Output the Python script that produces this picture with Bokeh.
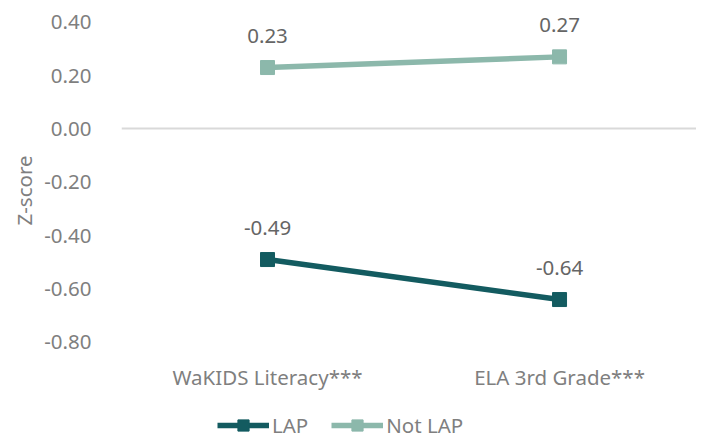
from bokeh.plotting import figure
from bokeh.models import (Range1d, Legend, LegendItem, FixedTicker, ColumnDataSource,
                          NumeralTickFormatter, Title)
from bokeh.embed import file_html
from bokeh.resources import INLINE

categories = ["WaKIDS Literacy***", "ELA 3rd Grade***"]
lap = [-0.49, -0.64]
not_lap = [0.23, 0.27]
y_ticks = [0.4, 0.2, 0.0, -0.2, -0.4, -0.6, -0.8]
y_axis_title = "Z-score"
series_names = ["LAP", "Not LAP"]
series_colors = ["#135B60", "#8CB8AB"]

FONT = "Noto Sans"
FS = "20.5px"
GRAY = "#7F7F7F"
LBL = "#656565"

xs = list(range(len(categories)))

# frame spans the whole canvas height; value axis runs 0.4 .. -0.8 inside it
p = figure(width=696, height=440, output_backend="svg", toolbar_location=None,
           x_range=Range1d(-0.5, 1.469), y_range=Range1d(-1.1686, 0.4814),
           min_border_left=121, min_border_right=0, min_border_top=0, min_border_bottom=0)
p.outline_line_color = None
p.background_fill_color = "white"
p.border_fill_color = "white"

renderers = []
for vals, name, col in zip([lap, not_lap], series_names, series_colors):
    src = ColumnDataSource(dict(x=xs, y=vals, t=["%.2f" % v for v in vals]))
    l = p.line("x", "y", source=src, line_color=col, line_width=5.5)
    m = p.scatter("x", "y", source=src, marker="square", size=14, fill_color=col, line_color=col)
    p.text("x", "y", text="t", source=src, text_font={"value": FONT}, text_font_size=FS,
           text_color=LBL, text_align="center", text_baseline="middle", y_offset=-32)
    renderers.append((name, [l, m]))

p.xaxis.ticker = FixedTicker(ticks=xs)
p.xaxis.major_label_overrides = {i: c for i, c in enumerate(categories)}
p.xaxis.fixed_location = y_ticks[-1]
p.xaxis.axis_line_color = None
p.xaxis.major_tick_line_color = None
p.xaxis.minor_tick_line_color = None
p.xaxis.major_label_text_font = FONT
p.xaxis.major_label_text_font_size = FS
p.xaxis.major_label_text_color = GRAY
p.xaxis.major_label_standoff = 15

p.yaxis.ticker = FixedTicker(ticks=y_ticks)
p.yaxis.formatter = NumeralTickFormatter(format="0.00")
p.yaxis.axis_line_color = None
p.yaxis.major_tick_line_color = None
p.yaxis.minor_tick_line_color = None
p.yaxis.major_label_text_font = FONT
p.yaxis.major_label_text_font_size = FS
p.yaxis.major_label_text_color = GRAY
p.yaxis.major_label_standoff = 24

p.add_layout(Title(text=y_axis_title, align="left", offset=215, text_font=FONT,
                   text_font_size=FS, text_font_style="normal", text_color=GRAY,
                   standoff=8), "left")

p.xgrid.grid_line_color = None
p.ygrid.ticker = FixedTicker(ticks=[0.0])
p.ygrid.grid_line_color = "#D9D9D9"
p.ygrid.grid_line_width = 2

legend = Legend(items=[LegendItem(label=n, renderers=r) for n, r in renderers],
                orientation="horizontal", location=(96, 1), padding=0, margin=0,
                glyph_width=52, glyph_height=28, label_standoff=3, spacing=23,
                border_line_color=None, background_fill_alpha=0,
                label_text_font=FONT, label_text_font_size=FS, label_text_color=GRAY)
p.add_layout(legend, "center")

open("out.html", "w").write(file_html(p, INLINE))
